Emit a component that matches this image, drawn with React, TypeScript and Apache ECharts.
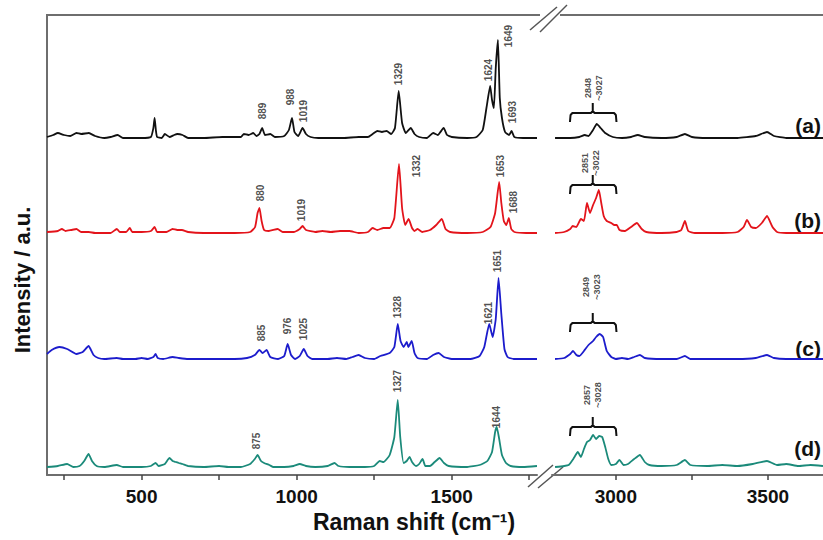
import React, { useEffect, useRef } from "react";
import * as echarts from "echarts";

// ---- Data (relative intensities in arbitrary units, wavenumbers in cm^-1) ----
const seriesNames = ["(a)", "(b)", "(c)", "(d)"];
const seriesColors = ["#111111", "#e3141b", "#1c1ccc", "#1b8a7a"];
const offsets = [337, 242, 116, 8];

const aLow: number[][] = [[195,1],[215,3],[230,5],[250,3],[270,2],[290,5],[305,4],[330,5],[350,2],[380,0],[400,1],[423,3],[440,0],[500,0],[530,1],[538,10],[542,20],[546,8],[550,1],[565,0],[575,4],[590,1],[605,3],[615,4],[632,3],[650,0],[700,0],[760,1],[820,1],[830,4],[845,3],[860,5],[870,2],[880,4],[889,10],[898,3],[915,4],[930,1],[960,2],[975,8],[985,20],[993,6],[1005,2],[1019,10],[1030,4],[1045,1],[1070,0],[1100,0],[1150,0],[1200,1],[1230,1],[1245,4],[1260,7],[1275,6],[1290,7],[1305,4],[1317,10],[1329,47],[1340,15],[1352,5],[1368,10],[1380,4],[1395,1],[1420,0],[1440,5],[1455,3],[1474,10],[1485,3],[1500,1],[1550,0],[1580,1],[1600,8],[1612,30],[1624,52],[1630,38],[1636,30],[1642,70],[1649,98],[1655,40],[1662,20],[1672,6],[1685,3],[1693,7],[1702,1],[1730,0],[1775,0]];
const aHigh: number[][] = [[2800,0],[2850,0],[2880,1],[2898,3],[2910,2],[2925,8],[2937,14],[2950,10],[2965,5],[2990,1],[3020,0],[3050,1],[3072,3],[3095,1],[3150,0],[3200,1],[3227,4],[3250,1],[3300,0],[3400,0],[3460,2],[3497,6],[3520,2],[3560,0],[3620,0],[3681,0]];

const bLow: number[][] = [[195,1],[230,2],[243,4],[255,2],[273,3],[290,4],[305,1],[330,1],[350,0],[400,0],[420,4],[430,1],[450,1],[462,5],[470,1],[500,1],[530,2],[542,6],[550,1],[580,1],[600,4],[615,3],[630,3],[650,1],[700,0],[750,0],[800,0],[850,1],[866,6],[874,20],[880,25],[887,12],[895,3],[910,2],[939,4],[955,1],[990,1],[1010,4],[1019,7],[1030,3],[1060,1],[1083,2],[1110,1],[1140,2],[1170,2],[1200,0],[1230,1],[1245,5],[1260,3],[1280,5],[1300,5],[1315,15],[1330,69],[1340,25],[1350,8],[1361,14],[1372,5],[1380,2],[1390,4],[1405,1],[1430,3],[1450,8],[1468,14],[1480,4],[1495,1],[1550,0],[1600,1],[1625,6],[1640,20],[1653,51],[1660,30],[1668,12],[1676,8],[1684,15],[1692,4],[1702,1],[1740,0],[1775,0]];
const bHigh: number[][] = [[2800,0],[2830,1],[2850,4],[2858,7],[2870,6],[2885,14],[2895,12],[2905,30],[2915,20],[2925,28],[2935,35],[2944,43],[2952,30],[2960,17],[2970,12],[2985,10],[2995,8],[3003,8],[3012,3],[3030,2],[3050,6],[3069,10],[3085,4],[3100,1],[3150,0],[3200,1],[3215,3],[3227,12],[3238,2],[3260,0],[3350,0],[3400,1],[3420,6],[3431,13],[3445,6],[3460,5],[3480,10],[3497,17],[3515,6],[3530,1],[3560,0],[3600,0],[3681,0]];

const cLow: number[][] = [[195,5],[210,9],[235,12],[260,10],[290,5],[310,7],[329,13],[345,4],[360,1],[380,0],[420,1],[440,0],[480,0],[500,1],[520,0],[538,2],[545,5],[552,1],[570,0],[600,2],[620,1],[650,0],[700,0],[750,0],[800,0],[840,1],[865,4],[880,9],[890,6],[903,9],[915,2],[940,0],[960,3],[971,15],[982,4],[995,0],[1010,3],[1023,10],[1035,3],[1050,0],[1080,0],[1100,0],[1130,1],[1160,0],[1180,2],[1200,4],[1220,1],[1250,0],[1270,3],[1300,6],[1315,12],[1326,35],[1335,18],[1345,12],[1355,17],[1360,12],[1371,18],[1380,6],[1390,1],[1420,0],[1440,4],[1458,6],[1475,2],[1500,0],[1560,0],[1590,3],[1605,12],[1621,35],[1632,22],[1642,40],[1651,81],[1660,45],[1670,10],[1680,2],[1700,0],[1775,0]];
const cHigh: number[][] = [[2800,0],[2830,1],[2850,5],[2859,8],[2870,4],[2880,3],[2895,8],[2910,14],[2925,18],[2935,22],[2947,25],[2958,22],[2970,8],[2985,2],[3000,0],[3020,1],[3040,0],[3060,2],[3079,4],[3095,1],[3150,0],[3200,0],[3227,3],[3245,0],[3300,0],[3400,0],[3460,1],[3497,4],[3520,1],[3560,0],[3681,0]];

const dLow: number[][] = [[195,0],[230,1],[260,3],[280,0],[300,1],[315,6],[329,13],[340,6],[355,1],[380,0],[420,2],[440,0],[500,0],[530,1],[545,4],[555,1],[575,3],[590,9],[600,6],[610,5],[620,4],[632,3],[650,1],[700,0],[750,1],[780,0],[820,0],[850,3],[865,8],[874,12],[885,6],[895,4],[912,2],[925,0],[960,0],[990,1],[1010,3],[1030,1],[1060,0],[1100,1],[1122,4],[1135,1],[1170,0],[1220,0],[1250,1],[1268,6],[1280,5],[1300,12],[1315,30],[1326,67],[1334,30],[1345,4],[1355,6],[1364,10],[1372,5],[1385,1],[1395,3],[1406,8],[1415,1],[1430,1],[1445,5],[1461,9],[1475,4],[1490,1],[1550,0],[1590,2],[1615,6],[1630,15],[1640,35],[1645,40],[1652,30],[1662,12],[1675,4],[1690,1],[1730,0],[1775,1]];
const dHigh: number[][] = [[2800,0],[2830,1],[2845,2],[2860,8],[2875,15],[2885,10],[2895,18],[2905,25],[2915,27],[2925,32],[2935,28],[2945,31],[2955,30],[2965,20],[2975,8],[2985,2],[3000,3],[3012,7],[3025,2],[3040,3],[3060,8],[3079,12],[3095,5],[3110,2],[3150,1],[3200,2],[3227,7],[3245,2],[3300,1],[3350,2],[3400,1],[3450,3],[3497,6],[3530,2],[3560,3],[3600,1],[3640,2],[3681,1]];

const lowData = [aLow, bLow, cLow, dLow];
const highData = [aHigh, bHigh, cHigh, dHigh];

// Peak annotations: [wavenumber, height, text]
const aPeaks: (number | string)[][] = [[891,364,"889"],[979,378,"988"],[1021,364,"1019"],[1327,401,"1329"],[1617,405,"1624"],[1682,439,"1649"],[1695,363,"1693"]];
const bPeaks: (number | string)[][] = [[882,282,"880"],[1017,265,"1019"],[1388,309,"1332"],[1656,309,"1653"],[1698,273,"1688"]];
const cPeaks: (number | string)[][] = [[888,142,"885"],[972,149,"976"],[1021,146,"1025"],[1324,168,"1328"],[1617,162,"1621"],[1649,214,"1651"]];
const dPeaks: (number | string)[][] = [[872,34,"875"],[1324,94,"1327"],[1646,58,"1644"]];
const peakLabels = [aPeaks, bPeaks, cPeaks, dPeaks];

// CH-stretch ranges: [wavenumber, height, text]
const rangeLabels: (number | string)[][] = [[2925,387,"2848\n~3027"],[2918,312,"2851\n~3022"],[2921,188,"2849\n~3023"],[2924,80,"2857\n~3028"]];
// Bracket bar heights
const bracketBars = [362, 290, 152, 48];
// Bracket shape (wavenumber, relative height)
const bracketX = [2849, 2851, 2857, 2918, 2924, 2924, 2924, 2930, 2994, 3000, 3002];
const bracketDY = [-9, -2, 0, 0, 2, 10, 2, 0, 0, -2, -9];

const lowTicks = [250, 500, 750, 1000, 1250, 1500, 1750];
const lowTickLabels = [500, 1000, 1500];
const highTicks = [3000, 3250, 3500];
const highTickLabels = [3000, 3500];

const FONT = "'Liberation Sans', Arial, sans-serif";
const AXIS_COLOR = "#6e6e6e";

export default function App() {
  const ref = useRef<HTMLDivElement>(null);
  useEffect(() => {
    if (!ref.current) return;
    const chart = echarts.init(ref.current, undefined, { renderer: "svg" });

    const series: any[] = [];
    for (let k = 0; k < 4; k++) {
      const off = offsets[k];
      series.push({
        type: "line", xAxisIndex: 0, yAxisIndex: 0, name: seriesNames[k] + "L",
        data: lowData[k].map((p) => [p[0], p[1] + off]),
        symbol: "none", smooth: 0.15, lineStyle: { color: seriesColors[k], width: 1.8 },
      });
      series.push({
        type: "line", xAxisIndex: 1, yAxisIndex: 1, name: seriesNames[k] + "H",
        data: highData[k].map((p) => [p[0], p[1] + off]),
        symbol: "none", smooth: 0.15, lineStyle: { color: seriesColors[k], width: 1.8 },
      });
      series.push({
        type: "scatter", xAxisIndex: 0, yAxisIndex: 0, symbolSize: 1,
        itemStyle: { color: "rgba(0,0,0,0)" }, silent: true,
        data: peakLabels[k].map((p) => ({ value: [p[0], p[1]], name: p[2] })),
        label: {
          show: true, formatter: "{b}", rotate: 90, position: "inside",
          fontSize: 10, fontWeight: "bold", color: "#222", fontFamily: FONT,
        },
      });
      series.push({
        type: "scatter", xAxisIndex: 1, yAxisIndex: 1, symbolSize: 1,
        itemStyle: { color: "rgba(0,0,0,0)" }, silent: true,
        data: [{ value: [rangeLabels[k][0], rangeLabels[k][1]], name: rangeLabels[k][2] }],
        label: {
          show: true, formatter: "{b}", rotate: 90, position: "inside",
          fontSize: 9, fontWeight: "bold", color: "#222", fontFamily: FONT, lineHeight: 11,
        },
      });
      series.push({
        type: "line", xAxisIndex: 1, yAxisIndex: 1, symbol: "none", silent: true,
        data: bracketX.map((x, i) => [x, bracketBars[k] + bracketDY[i]]),
        lineStyle: { color: "#111", width: 2 },
      });
    }

    const tickLabelStyle = {
      fontSize: 19, fontWeight: "bold", color: "#111", fontFamily: FONT, margin: 12,
      formatter: (v: number) => String(v),
    };

    const option: any = {
      animation: false,
      backgroundColor: "#ffffff",
      grid: [
        { left: 47, top: 15, width: 490, height: 460 },
        { left: 552, top: 15, width: 271, height: 460 },
      ],
      xAxis: [
        {
          gridIndex: 0, type: "value", min: 195, max: 1775,
          axisLine: { lineStyle: { color: AXIS_COLOR, width: 2 } },
          axisTick: { customValues: lowTicks, length: 5, lineStyle: { color: "#444", width: 1.5 } },
          axisLabel: { customValues: lowTickLabels, ...tickLabelStyle },
          splitLine: { show: false },
        },
        {
          gridIndex: 1, type: "value", min: 2790, max: 3681,
          axisLine: { lineStyle: { color: AXIS_COLOR, width: 2 } },
          axisTick: { customValues: highTicks, length: 5, lineStyle: { color: "#444", width: 1.5 } },
          axisLabel: { customValues: highTickLabels, ...tickLabelStyle },
          splitLine: { show: false },
        },
      ],
      yAxis: [
        {
          gridIndex: 0, type: "value", min: 0, max: 460,
          axisLine: { show: true, lineStyle: { color: AXIS_COLOR, width: 2 } },
          axisTick: { show: false }, axisLabel: { show: false }, splitLine: { show: false },
        },
        { gridIndex: 1, type: "value", min: 0, max: 460, show: false },
      ],
      series,
      graphic: [
        { type: "line", shape: { x1: 46, y1: 15, x2: 540, y2: 15 }, style: { stroke: AXIS_COLOR, lineWidth: 2 } },
        { type: "line", shape: { x1: 560, y1: 15, x2: 823, y2: 15 }, style: { stroke: AXIS_COLOR, lineWidth: 2 } },
        { type: "line", shape: { x1: 530, y1: 30, x2: 557, y2: 7 }, style: { stroke: "#555", lineWidth: 1.5 } },
        { type: "line", shape: { x1: 540, y1: 32, x2: 567, y2: 5 }, style: { stroke: "#555", lineWidth: 1.5 } },
        { type: "rect", shape: { x: 538, y: 472, width: 14, height: 6 }, style: { fill: "#fff" } },
        { type: "line", shape: { x1: 528, y1: 487, x2: 553, y2: 465 }, style: { stroke: "#555", lineWidth: 1.5 } },
        { type: "line", shape: { x1: 538, y1: 488, x2: 563, y2: 467 }, style: { stroke: "#555", lineWidth: 1.5 } },
        {
          type: "text", x: 414, y: 522,
          style: { text: "Raman shift (cm⁻¹)", font: `bold 23px ${FONT}`, fill: "#111", align: "center", verticalAlign: "middle" },
        },
        {
          type: "text", x: 22, y: 280, rotation: Math.PI / 2,
          style: { text: "Intensity / a.u.", font: `bold 22px ${FONT}`, fill: "#111", align: "center", verticalAlign: "middle" },
        },
        ...seriesNames.map((n, i) => ({
          type: "text", x: 821, y: [125, 220, 348, 448][i],
          style: { text: n, font: `bold 21px ${FONT}`, fill: "#111", align: "right", verticalAlign: "middle" },
        })),
      ],
    };
    chart.setOption(option);
    return () => chart.dispose();
  }, []);
  return <div ref={ref} style={{ width: 823, height: 540, position: "absolute", left: 0, top: 0 }} />;
}
